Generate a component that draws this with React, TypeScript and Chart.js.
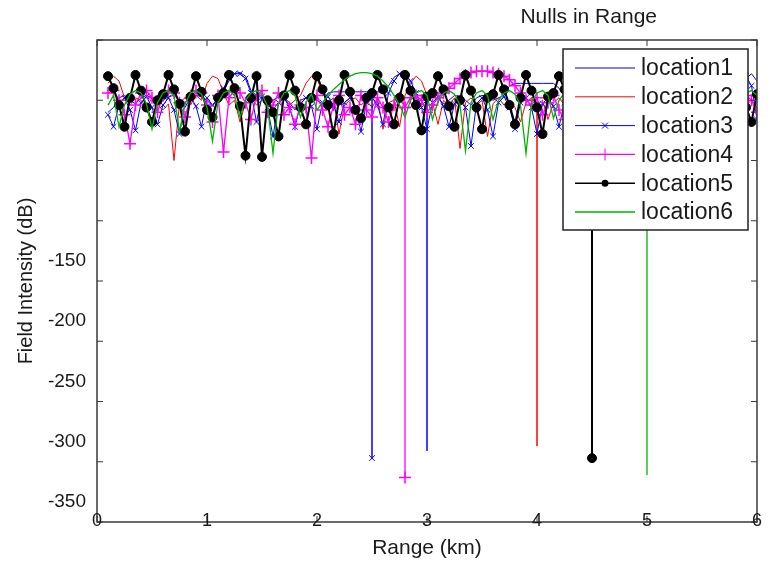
import React, { useEffect, useRef } from 'react';
import { Chart, registerables } from 'chart.js';

Chart.register(...registerables);

// ---- data ----
const rangeKm = [
  0.10, 0.15, 0.20, 0.25, 0.30, 0.35, 0.40, 0.45, 0.50, 0.55,
  0.60, 0.65, 0.70, 0.75, 0.80, 0.85, 0.90, 0.95, 1.00, 1.05,
  1.10, 1.15, 1.20, 1.25, 1.30, 1.35, 1.40, 1.45, 1.50, 1.55,
  1.60, 1.65, 1.70, 1.75, 1.80, 1.85, 1.90, 1.95, 2.00, 2.05,
  2.10, 2.15, 2.20, 2.25, 2.30, 2.35, 2.40, 2.45, 2.50, 2.55,
  2.60, 2.65, 2.70, 2.75, 2.80, 2.85, 2.90, 2.95, 3.00, 3.05,
  3.10, 3.15, 3.20, 3.25, 3.30, 3.35, 3.40, 3.45, 3.50, 3.55,
  3.60, 3.65, 3.70, 3.75, 3.80, 3.85, 3.90, 3.95, 4.00, 4.05,
  4.10, 4.15, 4.20, 4.25, 4.30, 4.35, 4.40, 4.45, 4.50, 4.55,
  4.60, 4.65, 4.70, 4.75, 4.80, 4.85, 4.90, 4.95, 5.00, 5.05,
  5.10, 5.15, 5.20, 5.25, 5.30, 5.35, 5.40, 5.45, 5.50, 5.55,
  5.60, 5.65, 5.70, 5.75, 5.80, 5.85, 5.90, 5.95, 6.00,
];

const location1 = [
  -10, -6, 2, 4, 0, -3, 2, 4, 2, -4,
  0, 3, 4, 0, -6, 2, 4, 3, 0, -5,
  2, 8, 16, 22, 23, 20, 8, 4, 2, -4,
  0, 3, 2, -2, -8, 0, 2, 3, 0, -3,
  6, 7, 7, 7, 7, 7, 7, 7, 7, 7,
  7, 12, 19, 22, 20, 12, 2, -4, 0, 3,
  2, -3, 0, 4, 3, 0, -4, 2, 4, 3,
  0, 2, 4, 12, 14, 14, 14, 14, 14, 14,
  14, 14, 10, 4, 0, -3, 2, 4, 3, 0,
  -4, 2, 4, 3, 0, -3, 2, 4, 3, 0,
  -4, 2, 4, 3, 0, -3, 2, 4, 3, 0,
  -4, 2, 4, 8, 12, 14, 18, 22, 16,
];

const location2 = [
  14, 20, 16, 2, -4, 2, 0, -6, 2, -4,
  -8, -3, -50, -2, 2, -4, 4, 0, 14, 20,
  18, 6, -4, 0, -18, -2, 2, -4, 0, 2,
  -8, -2, 2, -4, 0, 4, 14, 20, 18, 6,
  -2, 2, -28, -4, 0, 2, -4, 0, -6, 2,
  -24, -2, 0, -22, 4, 14, 20, 16, 4, -2,
  -20, 0, -4, 2, -40, -2, 2, -4, 0, -30,
  -3, 2, -4, 0, -6, -18, -2, 2, -4, 0,
  -16, -2, 2, -4, 0, -20, -2, 2, -4, 0,
  -18, -2, 2, -4, 0, -22, -2, 2, -4, 0,
  -18, -2, 2, -4, 0, -20, -2, 2, -4, 0,
  -18, -2, 2, 6, 10, 4, -4, 0, -6,
];

const location3 = [
  -12, -22, -4, 2, -8, -25, -2, 3, -6, -20,
  -4, 2, -8, -28, -2, 3, -5, -22, 2, -4,
  2, 10, 18, 22, 22, 18, 6, -18, 3, -6,
  -30, -2, 2, -6, -22, -3, 2, -5, -24, -2,
  3, -4, -18, -2, 2, -6, -26, -2, 2, -4,
  -20, 6, 16, 22, 22, 16, 6, -6, -24, -2,
  3, -5, -22, -3, 2, -6, -38, -3, 2, -8,
  -30, -2, 3, -6, -24, -2, 2, -6, -28, -3,
  2, -5, -22, -2, 3, -6, -26, -2, 2, -5,
  -22, -2, 3, -6, -26, -2, 2, -5, -20, -2,
  3, -6, -24, -2, 2, -5, -22, -2, 3, -6,
  -20, -2, 2, 8, 14, 18, 20, 12, -16,
];

const location4 = [
  6, 8, 0, -12, -36, -4, 6, 8, 2, -10,
  4, 8, 6, -2, -14, 2, 8, 6, -4, -18,
  4, -43, 2, 8, 6, -2, -16, 4, 8, -10,
  -4, 6, -12, -6, -20, -4, -6, -48, 4, -8,
  -22, -4, 4, -12, -6, -20, 4, -8, -14, 2,
  -6, -18, -4, 2, -6, 2, 4, 0, -10, -4,
  2, 6, 10, 14, 18, 21, 23, 24, 24, 24,
  23, 22, 20, 17, 12, 6, 0, -4, 2, -12,
  -2, 4, -8, -16, 2, 4, -6, -14, 2, 6,
  -4, -12, 2, 6, -4, -14, 2, 6, -4, -12,
  2, 6, -4, -14, 2, 6, -4, -12, 2, 6,
  -4, -14, 2, 6, -2, -8, 4, 0, -10,
];

const location5 = [
  20, 10, -4, -22, 2, 21, 8, -6, -18, 0,
  5, 21, 9, -3, -26, 3, 20, 7, -8, -14,
  2, 6, 21, 10, -5, -46, 2, 20, -47, 0,
  -10, -30, 4, 21, 8, -6, -20, 2, 20, 9,
  -4, -28, 0, 21, 7, -8, -15, 2, 6, 21,
  9, -6, -20, 2, 21, 8, -4, -25, 3, 6,
  20, 9, -5, -22, 0, 21, 8, -6, -24, 2,
  5, 21, 9, -4, -20, 2, 21, 8, -6, -28,
  3, 6, 20, 9, -5, -22, 2, 21, 8, -4,
  -20, 2, 5, 21, 8, -6, -24, 2, 20, 9,
  -4, -22, 2, 21, 8, -5, -26, 2, 6, 21,
  9, -4, -20, 2, 20, 8, -6, -18, 5,
];

const location6 = [
  -4, 4, -22, -4, 5, 8, 6, -3, -24, -2,
  6, 8, 4, -26, -3, 6, 8, 5, -6, -34,
  -2, 6, 8, 4, -14, 0, 6, 8, 5, -5,
  -44, -2, 6, 8, 4, -14, -2, 5, -8, -2,
  4, 9, 13, 17, 20, 22, 23, 23, 22, 20,
  16, 11, 4, -4, -14, 0, 6, 8, 4, -16,
  -1, 6, 8, 5, -4, -42, -2, 6, 8, 4,
  -16, 0, 6, 8, 5, -4, -44, -2, 6, 8,
  4, -15, 0, 6, 8, 4, -3, -36, -1, 6,
  8, 5, -15, 0, 6, 8, 4, -4, -14, -1,
  6, 8, 4, -16, 0, 6, 8, 5, -4, -15,
  -1, 6, 8, 4, -14, 0, 6, 8, 4,
];

const seriesNames = ['location1', 'location2', 'location3', 'location4', 'location5', 'location6'];
const seriesValues = [location1, location2, location3, location4, location5, location6];
const nullRangeKm = [3.0, 4.0, 2.5, 2.8, 4.5, 5.0];
const nullDepthDb = [-291, -287, -297, -313, -297, -311];
const yLabelsShown = [-150, -200, -250, -300, -350];

// ---- styles ----
const colors = ['#0000ff', '#ff0000', '#0000ff', '#ff00ff', '#000000', '#00b400'];
const markerStyles: (string | false)[] = [false, false, 'crossRot', 'cross', 'circle', false];
const markerRadii = [0, 0, 4, 6, 4.5, 0];
const legendMarkerRadii = [0, 0, 4, 6, 3.5, 0];
const lineWidths = [1, 1, 1, 1.3, 2, 1.3];
const FONT = "'Liberation Sans', Arial, sans-serif";

function buildPoints(values: number[], nullX: number, nullY: number) {
  const pts: { x: number; y: number }[] = [];
  rangeKm.forEach((x, i) => {
    pts.push({ x, y: values[i] });
    if (Math.abs(x - nullX) < 1e-6) {
      pts.push({ x, y: nullY });
      pts.push({ x, y: values[i] });
    }
  });
  return pts;
}

function drawMarker(ctx: CanvasRenderingContext2D, style: string | false, x: number, y: number, r: number, color: string) {
  if (!style) return;
  ctx.save();
  ctx.strokeStyle = color;
  ctx.fillStyle = color;
  ctx.lineWidth = 1;
  ctx.beginPath();
  if (style === 'circle') {
    ctx.arc(x, y, r, 0, Math.PI * 2);
    ctx.fill();
  } else if (style === 'cross') {
    ctx.moveTo(x - r, y); ctx.lineTo(x + r, y);
    ctx.moveTo(x, y - r); ctx.lineTo(x, y + r);
    ctx.stroke();
  } else if (style === 'crossRot') {
    const d = r * 0.75;
    ctx.moveTo(x - d, y - d); ctx.lineTo(x + d, y + d);
    ctx.moveTo(x + d, y - d); ctx.lineTo(x - d, y + d);
    ctx.stroke();
  }
  ctx.restore();
}

const framePlugin = {
  id: 'matlabFrame',
  afterDatasetsDraw(chart: any) {
    const { ctx, chartArea: ca, scales } = chart;
    ctx.save();
    ctx.strokeStyle = '#3a3a3a';
    ctx.lineWidth = 1.5;
    ctx.strokeRect(ca.left, ca.top, ca.right - ca.left, ca.bottom - ca.top);
    ctx.lineWidth = 1;
    ctx.beginPath();
    scales.y.ticks.forEach((t: any) => {
      const py = scales.y.getPixelForValue(t.value);
      ctx.moveTo(ca.left, py); ctx.lineTo(ca.left + 6, py);
      ctx.moveTo(ca.right, py); ctx.lineTo(ca.right - 6, py);
    });
    scales.x.ticks.forEach((t: any) => {
      const px = scales.x.getPixelForValue(t.value);
      ctx.moveTo(px, ca.top); ctx.lineTo(px, ca.top + 6);
      ctx.moveTo(px, ca.bottom); ctx.lineTo(px, ca.bottom - 6);
    });
    ctx.stroke();
    // x tick labels sit on the axis line, as in the original figure
    ctx.fillStyle = '#1a1a1a';
    ctx.font = `18px ${FONT}`;
    ctx.textAlign = 'center';
    ctx.textBaseline = 'middle';
    scales.x.ticks.forEach((t: any) => {
      const px = scales.x.getPixelForValue(t.value);
      ctx.fillText(String(t.value), px, ca.bottom - 1);
    });
    ctx.restore();
  },
};

const overlayPlugin = {
  id: 'overlay',
  afterDraw(chart: any) {
    const { ctx, chartArea: ca } = chart;
    ctx.save();
    // title
    ctx.fillStyle = '#1a1a1a';
    ctx.font = `21px ${FONT}`;
    ctx.textAlign = 'center';
    ctx.textBaseline = 'middle';
    ctx.fillText('Nulls in Range', ca.left + 0.745 * (ca.right - ca.left), 17);

    // legend
    const bw = 185, bh = 181;
    const bx = ca.right - 194, by = ca.top + 9;
    ctx.fillStyle = '#ffffff';
    ctx.fillRect(bx, by, bw, bh);
    ctx.strokeStyle = '#222';
    ctx.lineWidth = 1.5;
    ctx.strokeRect(bx, by, bw, bh);
    ctx.font = `23px ${FONT}`;
    ctx.textAlign = 'left';
    seriesNames.forEach((name, k) => {
      const y = by + 19 + k * 28.8;
      ctx.strokeStyle = colors[k];
      ctx.lineWidth = Math.min(lineWidths[k], 1.5);
      ctx.beginPath();
      ctx.moveTo(bx + 12, y);
      ctx.lineTo(bx + 72, y);
      ctx.stroke();
      drawMarker(ctx, markerStyles[k], bx + 42, y, legendMarkerRadii[k], colors[k]);
      ctx.fillStyle = '#1a1a1a';
      ctx.fillText(name, bx + 78, y + 1);
    });
    ctx.restore();
  },
};

export default function App() {
  const canvasRef = useRef<HTMLCanvasElement | null>(null);

  useEffect(() => {
    document.body.style.margin = '0';
    const canvas = canvasRef.current;
    if (!canvas) return;

    const datasets = seriesNames.map((name, k) => ({
      label: name,
      data: buildPoints(seriesValues[k], nullRangeKm[k], nullDepthDb[k]),
      showLine: true,
      borderColor: colors[k],
      backgroundColor: colors[k],
      borderWidth: lineWidths[k],
      pointStyle: markerStyles[k] || 'circle',
      pointRadius: markerRadii[k],
      pointBorderWidth: k === 3 ? 1.5 : 1,
      pointBorderColor: colors[k],
      pointBackgroundColor: colors[k],
      pointHoverRadius: markerRadii[k],
      tension: 0,
      order: 5 - k,
    }));

    const chart = new Chart(canvas, {
      type: 'scatter',
      data: { datasets },
      options: {
        animation: false,
        responsive: false,
        devicePixelRatio: 1,
        layout: { padding: { top: 40, right: 12, left: 0, bottom: 0 } },
        plugins: {
          legend: { display: false },
          title: { display: false },
          tooltip: { enabled: false },
        },
        scales: {
          x: {
            type: 'linear',
            min: 0,
            max: 6,
            grid: { display: false, drawTicks: false },
            border: { display: false },
            ticks: { stepSize: 1, display: false },
            title: {
              display: true,
              text: 'Range (km)',
              color: '#1a1a1a',
              font: { family: FONT, size: 21 },
              padding: { top: 0, bottom: 10 },
            },
            afterFit: (s: any) => { s.height = 49; },
          },
          y: {
            type: 'linear',
            min: -350,
            max: 50,
            grid: { display: false, drawTicks: false },
            border: { display: false },
            ticks: {
              stepSize: 50,
              padding: 11,
              labelOffset: -20,
              color: '#1a1a1a',
              font: { family: FONT, size: 19 },
              callback: (v: any) => (yLabelsShown.includes(Number(v)) ? String(v) : ''),
            },
            title: {
              display: true,
              text: 'Field Intensity (dB)',
              color: '#1a1a1a',
              font: { family: FONT, size: 20 },
              padding: { top: 14, bottom: 0 },
            },
            afterFit: (s: any) => { s.width = 97; },
          },
        },
      },
      plugins: [framePlugin, overlayPlugin],
    });

    return () => chart.destroy();
  }, []);

  return (
    <div style={{ width: 769, height: 571, background: '#fff' }}>
      <canvas ref={canvasRef} width={769} height={571} style={{ display: 'block' }} />
    </div>
  );
}
